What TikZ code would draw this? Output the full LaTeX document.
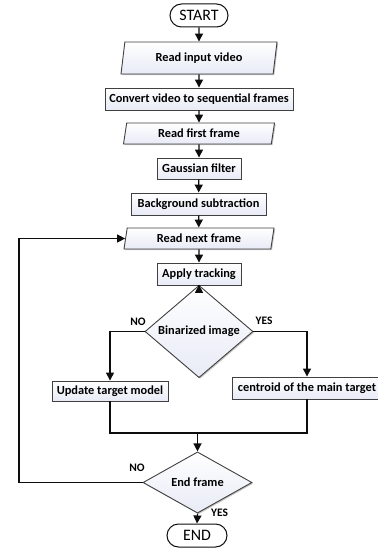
\documentclass[tikz,border=0pt]{standalone}
\usepackage{fontspec}
\setmainfont{Carlito}
\usetikzlibrary{shapes.geometric,shapes.misc,arrows.meta,shadows}

\newlength{\du}
\setlength{\du}{1bp}

\definecolor{boxline}{rgb}{0.250000, 0.250000, 0.250000}
\definecolor{boxshade}{rgb}{0.910000, 0.920000, 0.965000}
\definecolor{flowline}{rgb}{0.050000, 0.050000, 0.050000}

\tikzset{
  every node/.style={font=\fontsize{12.4}{14}\selectfont\bfseries, text=black},
  base/.style={draw=boxline, line width=0.9\du, top color=white, bottom color=boxshade,
    drop shadow={shadow xshift=1.2\du, shadow yshift=-1.2\du, fill=black!22, opacity=1},
    inner sep=0pt},
  termbox/.style={rounded rectangle, draw=flowline, line width=1\du, fill=white,
    inner sep=0pt, font=\fontsize{16}{18}\selectfont},
  procbox/.style={base, rectangle},
  iobox/.style={base, trapezium, trapezium left angle=70, trapezium right angle=110,
    trapezium stretches body=true},
  testbox/.style={base, diamond},
  flow/.style={draw=flowline, line width=1.3\du, -{Triangle[width=8bp,length=8bp]}},
  plain/.style={draw=flowline, line width=1.3\du},
  tag/.style={font=\fontsize{11.5}{13}\selectfont\bfseries}
}

\begin{document}
\begin{tikzpicture}[x=1\du, y=-1\du]
\useasboundingbox (0,0) rectangle (377,550);

\node[termbox, minimum width=58\du, minimum height=23\du] (start) at (199,15.5) {START};
\node[iobox, minimum width=156\du, minimum height=32\du] (input) at (199,58) {Read input video};
\node[procbox, minimum width=188\du, minimum height=22\du] (convert) at (199,99) {Convert video to sequential frames};
\node[iobox, minimum width=151\du, minimum height=21\du] (first) at (199,133.5) {Read first frame};
\node[procbox, minimum width=84\du, minimum height=21\du] (gauss) at (199,168.5) {Gaussian filter};
\node[procbox, minimum width=135\du, minimum height=22\du] (backgr) at (198.5,204) {Background subtraction};
\node[iobox, minimum width=150\du, minimum height=21\du] (next) at (199,238.5) {Read next frame};
\node[procbox, minimum width=84\du, minimum height=22\du] (track) at (199,274) {Apply tracking};
\node[testbox, minimum width=108\du, minimum height=65\du] (binar) at (199,331.5) {Binarized image};
\node[procbox, minimum width=116\du, minimum height=20\du] (update) at (110,391) {Update target model};
\node[procbox, minimum width=150\du, minimum height=22\du] (centroid) at (307,388) {centroid of the main target};
\node[testbox, minimum width=109\du, minimum height=53\du] (endf) at (197.5,482.5) {End frame};
\node[termbox, minimum width=60\du, minimum height=23\du] (end) at (197,535.5) {END};

\coordinate (join) at (197.5,433);
\coordinate (loop) at (19,482.5);

\draw[flow] (start) -- (input);
\draw[flow] (input) -- (convert);
\draw[flow] (convert) -- (first);
\draw[flow] (first) -- (gauss);
\draw[flow] (gauss) -- (backgr);
\draw[flow] (backgr) -- (next);
\draw[flow] (next) -- (track);
\draw[flow] (track) -- (binar);
\draw[flow] (binar.west) -| (update.north);
\draw[flow] (binar.east) -| (centroid.north);
\draw[plain] (update.south) |- (join) -| (centroid.south);
\draw[flow] (join) -- (endf.north);
\draw[flow] (endf.west) -- (loop) |- (next.west);
\draw[flow] (endf.south) -- (end.north);

\node[tag] (no1) at (138,322) {NO};
\node[tag] (yes1) at (264,321) {YES};
\node[tag] (no2) at (137,468) {NO};
\node[tag] (yes2) at (219.5,513) {YES};
\end{tikzpicture}
\end{document}
